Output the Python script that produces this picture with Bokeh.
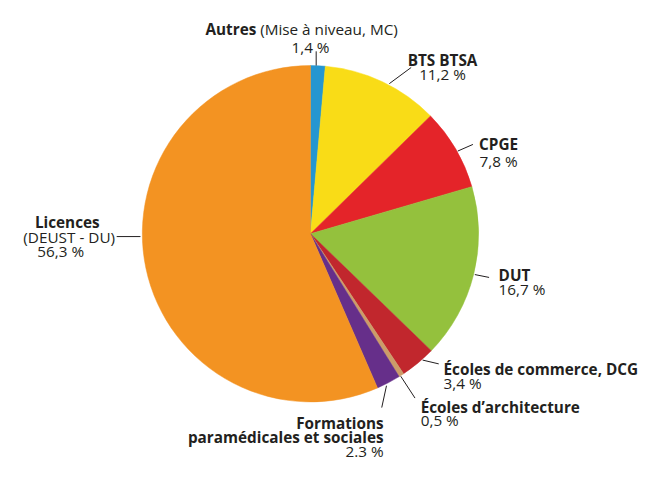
import math
from bokeh.plotting import figure
from bokeh.models import Range1d, ColumnDataSource
from bokeh.core.properties import value
from bokeh.embed import file_html
from bokeh.resources import INLINE

# ---------------- data ----------------
categories = ["Autres", "BTS BTSA", "CPGE", "DUT", "Écoles de commerce, DCG",
              "Écoles d’architecture", "Formations paramédicales et sociales", "Licences"]
shares = [1.4, 11.2, 7.8, 16.7, 3.4, 0.5, 2.3, 56.3]
share_labels = ["1,4 %", "11,2 %", "7,8 %", "16,7 %", "3,4 %", "0,5 %", "2.3 %", "56,3 %"]
colors = ["#2596d1", "#f9dc17", "#e42429", "#94c13d", "#c1272d", "#cc9c69", "#662f8a", "#f39322"]

# label title lines per category (bold)
title_lines = [
    ["Autres"],
    ["BTS BTSA"],
    ["CPGE"],
    ["DUT"],
    ["Écoles de commerce, DCG"],
    ["Écoles d’architecture"],
    ["Formations", "paramédicales et sociales"],
    ["Licences"],
]
subtitle_autres = "(Mise à niveau, MC)"
subtitle_licences = "(DEUST - DU)"

# ---------------- layout (in reference-pixel units) ----------------
W, H = 648, 463
S = 0.95                      # px per layout unit
X0, Y0 = -14.3, -5.5          # layout coords of canvas top-left
CX, CY, R = 312, 240, 177
FONT = "Open Sans"
FS = "15.3px"
INK = "#231f20"

blocks = [
    dict(x=312, ys=[25, 43], align="center"),
    dict(x=451, ys=[57, 72], align="center"),
    dict(x=510, ys=[146, 163], align="center"),
    dict(x=510, ys=[283, 298], align="left"),
    dict(x=452, ys=[382, 397], align="left"),
    dict(x=428, ys=[422, 436], align="left"),
    dict(x=389, ys=[439, 454, 469], align="right"),
    dict(x=56, ys=[228, 243, 258], align="center"),
]
leaders = [
    ((318, 48), (318, 63)),
    ((395, 82), (418, 65)),
    ((467, 153), (483, 146)),
    ((485, 283), (500, 286)),
    ((430, 373), (447, 377)),
    ((407, 390), (422, 413)),
    ((392, 400), (387, 423)),
    ((108, 243), (133, 243)),
]


def fy(ry):
    return -ry


p = figure(width=W, height=H, output_backend="svg", toolbar_location=None,
           x_range=Range1d(X0, X0 + W / S), y_range=Range1d(fy(Y0 + H / S), fy(Y0)),
           min_border=0, outline_line_color=None)
p.axis.visible = False
p.grid.visible = False
p.background_fill_color = "white"
p.border_fill_color = "white"

# ---------------- wedges ----------------
total = sum(shares)
starts, ends = [], []
cum = 0.0
for s in shares:
    a0 = math.pi / 2 - 2 * math.pi * (cum + s) / total
    a1 = math.pi / 2 - 2 * math.pi * cum / total
    starts.append(a0)
    ends.append(a1)
    cum += s
src = ColumnDataSource(dict(start=starts, end=ends, color=colors, cat=categories))
p.wedge(x=CX, y=fy(CY), radius=R, start_angle="start", end_angle="end",
        fill_color="color", line_color="color", line_width=0.5, source=src)

# ---------------- leader lines ----------------
p.segment(x0=[a[0] for a, b in leaders], y0=[fy(a[1]) for a, b in leaders],
          x1=[b[0] for a, b in leaders], y1=[fy(b[1]) for a, b in leaders],
          line_color=INK, line_width=1)

# ---------------- labels ----------------
bx, by, bt, ba = [], [], [], []   # bold
rx, ry, rt, ra = [], [], [], []   # regular
for i, blk in enumerate(blocks):
    lines = title_lines[i]
    if i == 0:
        bx.append(255); by.append(fy(blk["ys"][0])); bt.append(lines[0]); ba.append("right")
        rx.append(259); ry.append(fy(blk["ys"][0])); rt.append(subtitle_autres); ra.append("left")
        rx.append(blk["x"]); ry.append(fy(blk["ys"][1])); rt.append(share_labels[i]); ra.append("center")
        continue
    k = 0
    for ln in lines:
        bx.append(blk["x"]); by.append(fy(blk["ys"][k])); bt.append(ln); ba.append(blk["align"])
        k += 1
    if i == 7:
        rx.append(58); ry.append(fy(blk["ys"][k])); rt.append(subtitle_licences); ra.append("center")
        k += 1
        rx.append(49); ry.append(fy(blk["ys"][k])); rt.append(share_labels[i]); ra.append("center")
    else:
        rx.append(blk["x"]); ry.append(fy(blk["ys"][k])); rt.append(share_labels[i]); ra.append(blk["align"])

p.text(x="x", y="y", text="t", text_align="a",
       source=ColumnDataSource(dict(x=bx, y=by, t=bt, a=ba)),
       text_font=value(FONT), text_font_size=FS, text_font_style="bold",
       text_color=INK, text_baseline="alphabetic")
p.text(x="x", y="y", text="t", text_align="a",
       source=ColumnDataSource(dict(x=rx, y=ry, t=rt, a=ra)),
       text_font=value(FONT), text_font_size=FS, text_font_style="normal",
       text_color=INK, text_baseline="alphabetic")

open("out.html", "w").write(file_html(p, INLINE))
